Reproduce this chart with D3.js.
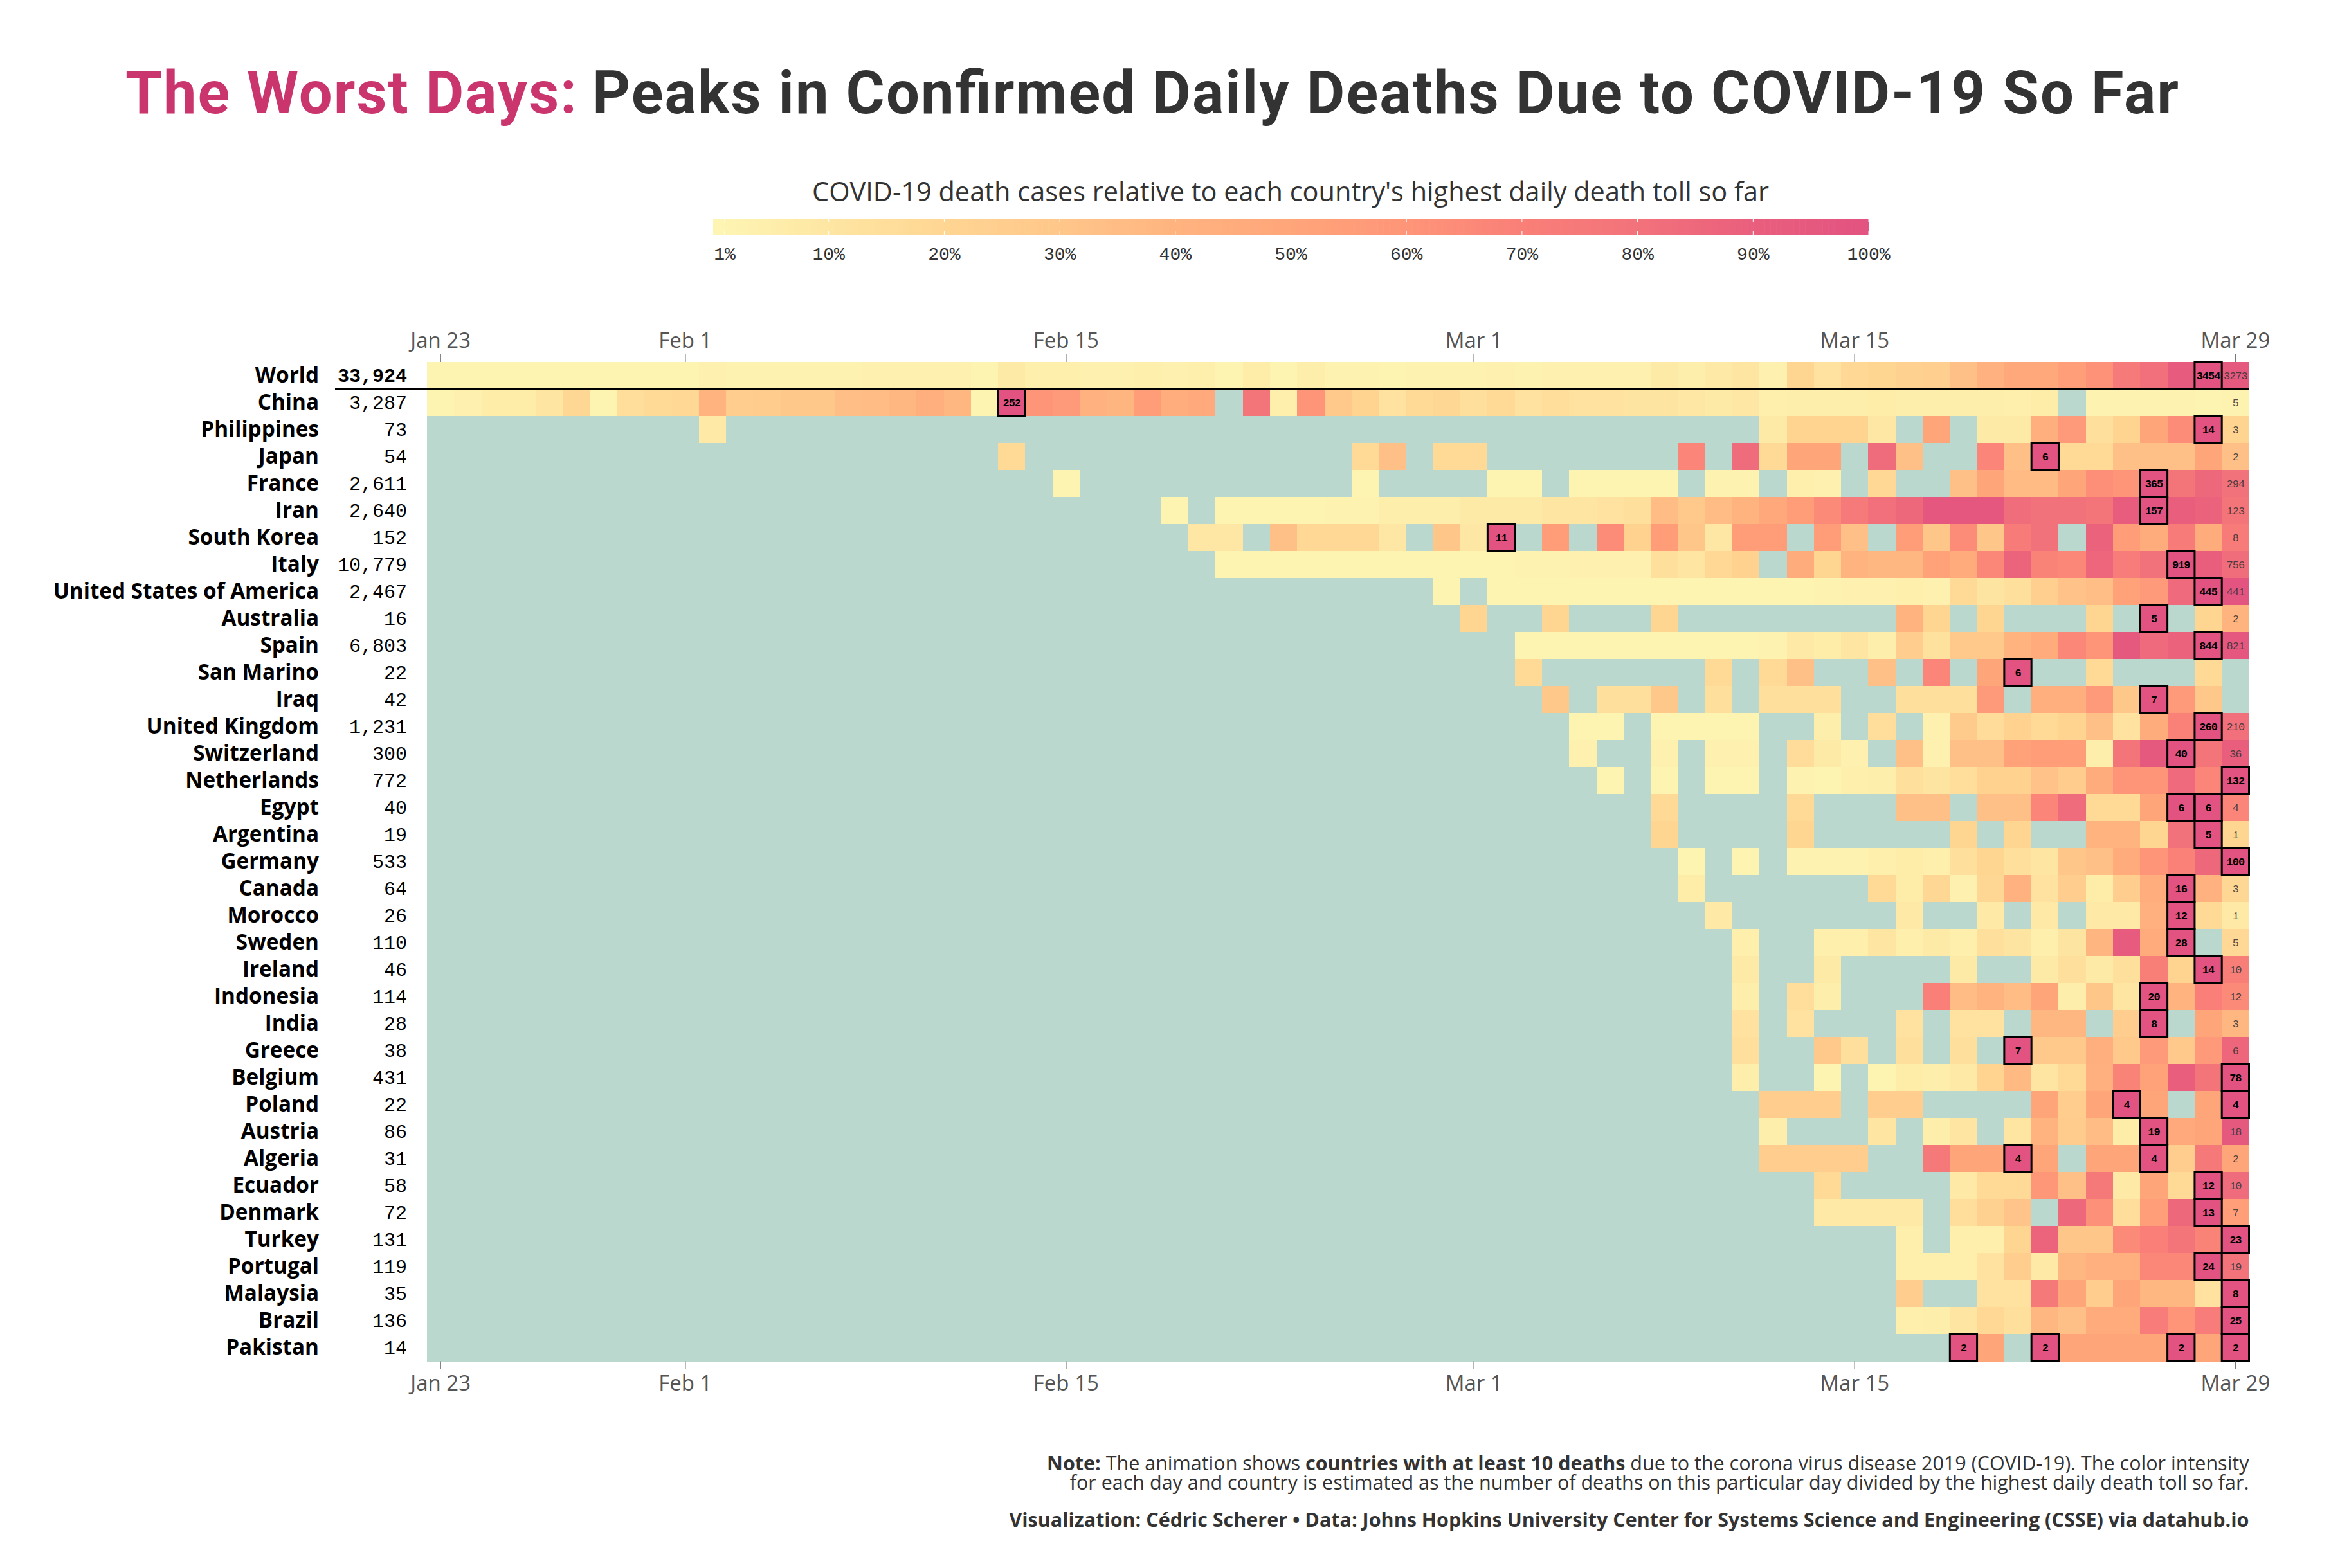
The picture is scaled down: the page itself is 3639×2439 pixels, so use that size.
<!DOCTYPE html>
<html>
<head>
<meta charset="utf-8">
<script src="https://cdn.jsdelivr.net/npm/d3@7"></script>
<style>
  html, body { margin: 0; background: #fff; }
  text { font-family: "Open Sans", sans-serif; }
  .mono { font-family: "Liberation Mono", monospace; }
</style>
</head>
<body>
<svg id="chart" width="3639" height="2439"></svg>
<script>
const _ = null;

const countries = ["World", "China", "Philippines", "Japan", "France", "Iran", "South Korea", "Italy",
  "United States of America", "Australia", "Spain", "San Marino", "Iraq", "United Kingdom", "Switzerland",
  "Netherlands", "Egypt", "Argentina", "Germany", "Canada", "Morocco", "Sweden", "Ireland", "Indonesia",
  "India", "Greece", "Belgium", "Poland", "Austria", "Algeria", "Ecuador", "Denmark", "Turkey", "Portugal",
  "Malaysia", "Brazil", "Pakistan"];
const totals = [33924, 3287, 73, 54, 2611, 2640, 152, 10779, 2467, 16, 6803, 22, 42, 1231, 300, 772, 40, 19,
  533, 64, 26, 110, 46, 114, 28, 38, 431, 22, 86, 31, 58, 72, 131, 119, 35, 136, 14];
const peakCounts = [3454, 252, 14, 6, 365, 157, 11, 919, 445, 5, 844, 6, 7, 260, 40, 132, 6, 5, 100, 16, 12, 28,
  14, 20, 8, 7, 78, 4, 19, 4, 12, 13, 23, 24, 8, 25, 2];
const lastCounts = [3273, 5, 3, 2, 294, 123, 8, 756, 441, 2, 821, _, _, 210, 36, 132, 4, 1, 100, 3, 1, 5, 10, 12,
  3, 6, 78, 4, 18, 2, 10, 7, 23, 19, 8, 25, 2];

// share of each country's peak (%), every list ends on Mar 29, _ = no deaths that day
const relWorld = [1,1,1,1,1,1,1,1,1,1,3,2,2,2,2,2,3,3,3,3,1,7,4,4,3,3,4,3,4,1,6,1,5,2,2,1,2,2,2,3,2,3,3,3,3,7,5,8,10,3,20,12,18,20,23,24,33,41,48,48,54,61,74,81,93,100,95];
const relChina = [1,3,6,6,10,19,1,15,17,18,40,25,26,29,29,34,35,38,43,38,1,100,60,57,41,39,55,44,47,_,78,4,60,28,21,12,17,19,14,17,12,15,12,12,11,11,9,7,9,4,5,5,5,6,5,5,5,5,4,6,_,2,2,2,2,1,2];
const relPhilippines = [8,_,_,_,_,_,_,_,_,_,_,_,_,_,_,_,_,_,_,_,_,_,_,_,_,_,_,_,_,_,_,_,_,_,_,_,_,_,_,7,21,21,21,9,_,50,_,7,7,43,57,14,21,50,64,100,21];
const relJapan = [17,_,_,_,_,_,_,_,_,_,_,_,_,17,33,_,17,17,_,_,_,_,_,_,_,67,_,83,17,50,50,_,83,33,_,_,67,33,100,17,17,33,33,33,50,33];
const relFrance = [1,_,_,_,_,_,_,_,_,_,_,1,_,_,_,_,1,1,_,1,1,1,1,_,2,2,_,4,3,_,18,_,_,33,50,36,36,50,63,60,100,78,85,80];
const relIran = [1,_,1,1,1,1,2,2,5,5,5,7,7,7,10,10,12,14,35,28,35,40,48,55,65,74,81,85,96,96,96,82,80,80,78,92,100,90,88,78];
const relSouthKorea = [9,9,_,33,18,18,18,9,_,30,9,100,_,55,_,64,22,55,30,9,55,55,_,55,33,_,55,30,64,30,73,80,_,88,55,45,73,45,73];
const relItaly = [1,1,1,1,1,1,1,1,1,1,1,2,2,3,3,3,14,10,18,22,_,45,20,40,38,38,52,46,66,87,68,66,86,72,80,100,90,82];
const relUSA = [1,_,1,1,1,1,1,1,1,1,1,1,1,1,2,3,3,4,3,17,11,14,24,32,34,52,57,84,100,99];
const relAustralia = [20,_,_,20,_,_,_,20,_,_,_,_,_,_,_,_,40,20,_,20,_,_,_,20,_,100,_,20,40];
const relSpain = [1,1,1,1,1,1,1,1,1,2,8,6,10,5,25,13,28,28,40,46,66,60,95,84,88,100,96];
const relSanMarino = [17,_,_,_,_,_,_,17,_,17,33,_,_,33,_,67,_,50,100,_,_,17,_,_,_,17,_];
const relIraq = [29,_,14,14,29,_,14,_,14,14,14,_,_,14,14,14,57,_,43,43,57,29,100,57,29,_];
const relUK = [1,1,_,1,1,1,1,_,_,5,_,15,_,3,27,16,22,17,21,33,12,45,69,100,81];
const relSwitzerland = [3,_,_,3,_,3,3,_,16,7,3,_,33,3,33,33,52,55,55,5,78,95,100,78,90];
const relNetherlands = [1,_,1,_,1,1,_,2,1,4,5,14,11,15,22,22,32,26,45,60,60,84,67,100];
const relEgypt = [17,_,_,_,_,17,_,_,_,33,33,_,33,33,67,83,17,17,50,100,100,67];
const relArgentina = [20,_,_,_,_,20,_,_,_,_,_,20,_,20,_,_,40,40,20,80,100,20];
const relGermany = [1,_,1,_,2,2,2,4,6,4,14,20,14,10,30,33,46,60,69,85,100];
const relCanada = [6,_,_,_,_,_,_,17,6,19,3,19,41,12,25,6,25,44,100,41,19];
const relMorocco = [8,_,_,_,_,_,_,8,_,_,8,_,8,_,8,8,42,100,17,8];
const relSweden = [4,_,_,4,4,10,4,7,4,14,11,4,11,39,93,46,100,_,18];
const relIreland = [7,_,_,7,_,_,_,_,7,_,_,7,14,7,14,71,21,100,71];
const relIndonesia = [5,_,15,5,_,_,_,70,35,40,35,50,5,30,10,100,40,70,65];
const relIndia = [12,_,12,_,_,_,12,_,12,12,_,38,38,_,25,100,_,50,38];
const relGreece = [14,_,_,28,14,_,14,_,14,_,100,28,28,43,28,57,28,57,86];
const relBelgium = [5,_,_,1,_,1,6,5,8,21,37,10,17,42,68,52,90,78,100];
const relPoland = [25,25,25,_,25,25,_,_,_,_,50,25,50,100,50,_,50,100];
const relAustria = [5,_,_,_,10,_,5,10,_,10,40,26,35,6,100,47,50,95];
const relAlgeria = [25,25,25,25,_,_,75,50,50,100,50,_,50,50,100,25,75,50];
const relEcuador = [17,_,_,_,_,8,17,17,58,33,75,8,50,17,100,83];
const relDenmark = [8,8,8,8,_,15,23,31,_,85,62,15,54,85,100,54];
const relTurkey = [4,_,4,4,20,87,30,30,65,70,78,68,100];
const relPortugal = [4,4,4,12,25,8,38,42,42,66,66,100,79];
const relMalaysia = [25,_,_,12,12,75,50,25,50,38,38,12,100];
const relBrazil = [4,5,10,18,14,38,33,46,46,72,60,72,100];
const relPakistan = [100,50,_,100,50,50,50,50,100,50,100];

const relByCountry = [relWorld, relChina, relPhilippines, relJapan, relFrance, relIran, relSouthKorea, relItaly,
  relUSA, relAustralia, relSpain, relSanMarino, relIraq, relUK, relSwitzerland, relNetherlands, relEgypt,
  relArgentina, relGermany, relCanada, relMorocco, relSweden, relIreland, relIndonesia, relIndia, relGreece,
  relBelgium, relPoland, relAustria, relAlgeria, relEcuador, relDenmark, relTurkey, relPortugal, relMalaysia,
  relBrazil, relPakistan];

const tickDays = [0, 9, 23, 38, 52, 66];
const tickLabels = ["Jan 23", "Feb 1", "Feb 15", "Mar 1", "Mar 15", "Mar 29"];
const legendTicks = [1, 10, 20, 30, 40, 50, 60, 70, 80, 90, 100];
const colorStops = [0, 5, 10, 14, 20, 30, 40, 50, 60, 70, 80, 90, 100];
const colorValues = ["#fef5b4", "#feeeab", "#fee5a2", "#ffdf9c", "#ffd592", "#ffc68a", "#ffb37f", "#ffa57a",
  "#fe9478", "#f97f78", "#f2727b", "#e95e7d", "#e25381"];
const NUM_DAYS = 67;
const NA_COLOR = "#bad8ce";

const svg = d3.select("#chart");
const color = d3.scaleLinear().domain(colorStops).range(colorValues);
const x = d3.scaleBand().domain(d3.range(NUM_DAYS)).range([664, 3497.5]);
const y = d3.scaleBand().domain(countries).range([563, 2117.5]);

// title
svg.append("text").attr("x", 195).attr("y", 176)
  .attr("font-size", 92).attr("font-weight", 700).attr("fill", "#c9356c")
  .attr("textLength", 702).attr("lengthAdjust", "spacing")
  .style("font-family", "Roboto").text("The Worst Days:");
svg.append("text").attr("x", 921).attr("y", 176)
  .attr("font-size", 92).attr("font-weight", 700).attr("fill", "#333")
  .attr("textLength", 2467).attr("lengthAdjust", "spacing")
  .style("font-family", "Roboto").text("Peaks in Confirmed Daily Deaths Due to COVID-19 So Far");

// legend
const legendX = d3.scaleLinear().domain([0, 100]).range([1109, 2906]);
const legend = svg.append("g");
legend.append("text").attr("x", 2007).attr("y", 313).attr("text-anchor", "middle")
  .attr("font-size", 41.5).attr("fill", "#333")
  .text("COVID-19 death cases relative to each country's highest daily death toll so far");
legend.selectAll("rect").data(d3.range(0, 100, 0.5)).join("rect")
  .attr("x", (d) => legendX(d)).attr("y", 340)
  .attr("width", legendX(0.5) - legendX(0) + 0.6).attr("height", 25)
  .attr("fill", (d) => color(d));
legend.selectAll("path.tick").data(legendTicks).join("path").attr("class", "tick")
  .attr("d", (d) => `M${legendX(d)},340v5M${legendX(d)},360v5`)
  .attr("stroke", "#fff").attr("stroke-width", 1);
legend.selectAll("text.lab").data(legendTicks).join("text").attr("class", "lab mono")
  .attr("x", (d) => legendX(d)).attr("y", 404).attr("text-anchor", "middle")
  .attr("font-size", 28).attr("fill", "#333").text((d) => d + "%");

// cells
const cells = [];
relByCountry.forEach((values, r) => {
  const offset = NUM_DAYS - values.length;
  for (let day = 0; day < NUM_DAYS; day++) {
    const v = day < offset ? null : values[day - offset];
    cells.push({ country: countries[r], r: r, day: day, value: v });
  }
});

svg.append("g").selectAll("rect").data(cells).join("rect")
  .attr("x", (d) => x(d.day)).attr("y", (d) => y(d.country))
  .attr("width", x.bandwidth() + 0.5).attr("height", y.bandwidth() + 0.5)
  .attr("shape-rendering", "crispEdges")
  .attr("fill", (d) => (d.value === null ? NA_COLOR : color(d.value)));

// rule under the world row
svg.append("line")
  .attr("x1", 521).attr("x2", 3497.5)
  .attr("y1", y("China")).attr("y2", y("China"))
  .attr("stroke", "#000").attr("stroke-width", 2.2);

const peaks = cells.filter((d) => d.value === 100);
svg.append("g").selectAll("rect").data(peaks).join("rect")
  .attr("x", (d) => x(d.day)).attr("y", (d) => y(d.country))
  .attr("width", x.bandwidth()).attr("height", y.bandwidth())
  .attr("fill", "none").attr("stroke", "#000").attr("stroke-width", 3);

svg.append("g").selectAll("text").data(peaks).join("text").attr("class", "mono")
  .attr("x", (d) => x(d.day) + x.bandwidth() / 2).attr("y", (d) => y(d.country) + y.bandwidth() / 2)
  .attr("dy", "0.35em").attr("text-anchor", "middle")
  .attr("font-size", 17).attr("letter-spacing", -1).attr("font-weight", 700).attr("fill", "#000")
  .text((d) => peakCounts[d.r]);

// counts of the last day, peaks already have theirs
const lastCells = cells.filter((d) => d.day === NUM_DAYS - 1 && d.value !== null && d.value !== 100);
svg.append("g").selectAll("text").data(lastCells).join("text").attr("class", "mono")
  .attr("x", (d) => x(d.day) + x.bandwidth() / 2).attr("y", (d) => y(d.country) + y.bandwidth() / 2)
  .attr("dy", "0.35em").attr("text-anchor", "middle")
  .attr("font-size", 17).attr("letter-spacing", -1).attr("fill", "#333").attr("fill-opacity", 0.85)
  .text((d) => lastCounts[d.r]);

// country names and totals
const yAxis = svg.append("g").attr("transform", "translate(496,0)")
  .call(d3.axisLeft(y).tickSize(0).tickPadding(0));
yAxis.select(".domain").remove();
yAxis.selectAll("text").attr("font-size", 33.3).attr("font-weight", 700).attr("fill", "#000")
  .style("font-family", "Open Sans").attr("dy", "0.33em");

svg.append("g").selectAll("text").data(countries).join("text").attr("class", "mono")
  .attr("x", 633).attr("y", (d) => y(d) + y.bandwidth() / 2).attr("dy", "0.33em")
  .attr("text-anchor", "end").attr("font-size", 30).attr("fill", "#000")
  .attr("font-weight", (d, i) => (i === 0 ? 700 : 400))
  .text((d, i) => d3.format(",")(totals[i]));

// date axes
function styleDateAxis(g) {
  g.select(".domain").remove();
  g.selectAll("line").attr("stroke", "#777").attr("stroke-width", 1.5);
  g.selectAll("text").attr("font-size", 33).attr("fill", "#555").style("font-family", "Open Sans");
}
const formatDay = (d) => tickLabels[tickDays.indexOf(d)];
svg.append("g").attr("transform", "translate(0,563)")
  .call(d3.axisTop(x).tickValues(tickDays).tickFormat(formatDay).tickSize(12).tickPadding(10))
  .call(styleDateAxis);
svg.append("g").attr("transform", "translate(0,2117.5)")
  .call(d3.axisBottom(x).tickValues(tickDays).tickFormat(formatDay).tickSize(12).tickPadding(10))
  .call(styleDateAxis);

// note and credit
const note = svg.append("g").attr("text-anchor", "end").attr("fill", "#333").attr("font-size", 30.5);
const noteLine = note.append("text").attr("x", 3497.5).attr("y", 2287);
noteLine.append("tspan").attr("font-weight", 700).text("Note:");
noteLine.append("tspan").text(" The animation shows ");
noteLine.append("tspan").attr("font-weight", 700).text("countries with at least 10 deaths");
noteLine.append("tspan").text(" due to the corona virus disease 2019 (COVID-19). The color intensity");
note.append("text").attr("x", 3497.5).attr("y", 2317)
  .text("for each day and country is estimated as the number of deaths on this particular day divided by the highest daily death toll so far.");
note.append("text").attr("x", 3497.5).attr("y", 2375).attr("font-weight", 700)
  .text("Visualization: Cédric Scherer • Data: Johns Hopkins University Center for Systems Science and Engineering (CSSE) via datahub.io");
</script>
</body>
</html>
